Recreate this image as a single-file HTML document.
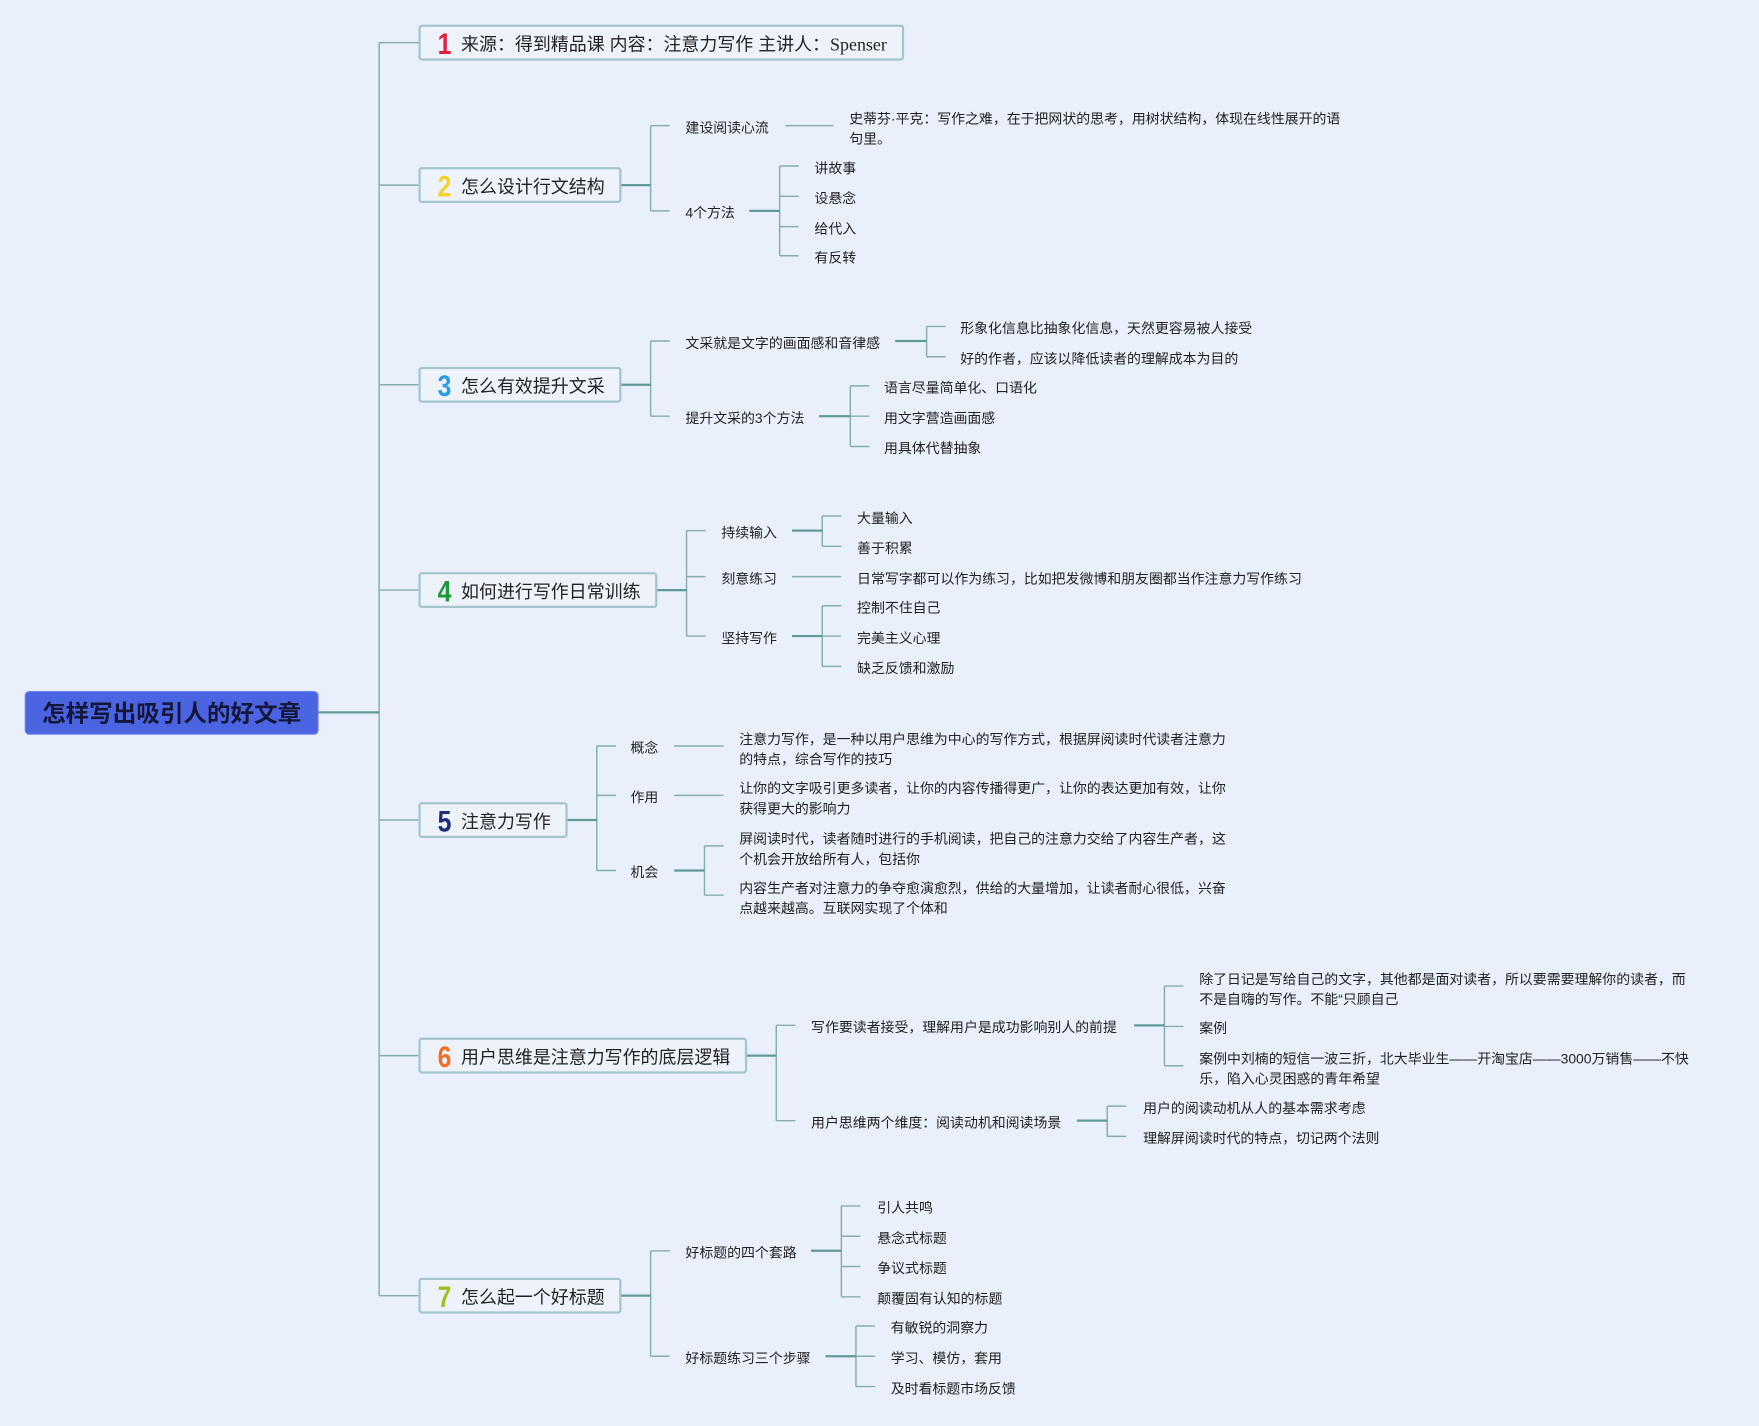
<!DOCTYPE html>
<html><head><meta charset="utf-8"><style>
html,body{margin:0;padding:0;background:#e9f0fb;}
#wrap{position:relative;width:1759px;height:1426px;overflow:hidden;background:#e9f0fb;}
#s{position:absolute;left:0;top:0;width:1568px;height:1271px;transform:scale(1.1218);transform-origin:0 0;font-family:"Liberation Sans","Noto Sans CJK SC",sans-serif;color:#222;}
.t{position:absolute;font-size:12.4px;line-height:18px;white-space:nowrap;margin-top:2px;}
.w{white-space:normal;}
.b{position:absolute;left:373px;height:28px;border:2px solid #a6c4cc;border-radius:3px;background:#eef3fb;font-size:16px;line-height:33px;padding-left:36px;box-sizing:content-box;color:#222;white-space:nowrap;}
.n{position:absolute;left:14px;top:0px;font-size:26px;line-height:30px;font-weight:bold;font-family:"Liberation Sans",sans-serif;transform:scaleX(0.85);}
svg{position:absolute;left:0;top:0;}
</style></head><body><div id="wrap"><div id="s">
<svg width="1568" height="1271" fill="none">
<g stroke="#86adae" stroke-width="1.3">
<path d="M338 38V1155M338 38H373M338 165H373M338 343H373M338 526H373M338 731H373M338 941H373M338 1155H373"/>
<path d="M580 112V188M580 112H597M580 188H597M700 112H743M695 148V228M695 148H712M695 175H712M695 202H712M695 228H712"/>
<path d="M580 304V371M580 304H597M580 371H597M826 291V318M826 291H843M826 318H843M758 344V398M758 344H775M758 371H775M758 398H775"/>
<path d="M612 473V567M612 473H629M612 514H629M612 567H629M733 460V487M733 460H750M733 487H750M706 514H750M733 540V594M733 540H750M733 567H750M733 594H750"/>
<path d="M532 665V776M532 665H549M532 709H549M532 776H549M601 665H645M601 709H645M628 754V798M628 754H645M628 798H645"/>
<path d="M692 914V999M692 914H709M692 999H709M1038 879V950M1038 879H1055M1038 915H1055M1038 950H1055M987 986V1013M987 986H1004M987 1013H1004"/>
<path d="M580 1115V1209M580 1115H597M580 1209H597M750 1075V1156M750 1075H767M750 1102H767M750 1129H767M750 1156H767M763 1182V1236M763 1182H780M763 1209H780M763 1236H780"/>
</g>
<g stroke="#5f9a98" stroke-width="2">
<path d="M284 635H338M552 165H580M552 343H580M584 526H612M504 731H532M664 941H692M552 1155H580"/>
<path d="M668 188H695M798 304H826M730 371H758M706 473H733M706 567H733M601 776H628M1011 914H1038M960 999H987M723 1115H750M736 1209H763"/>
</g>
</svg>
<div style="position:absolute;left:22px;top:616px;width:262px;height:39px;background:#4a64e2;border-radius:4px;border:1px solid #6a80ee;box-sizing:border-box;text-align:center;line-height:40px;font-size:21px;font-weight:bold;color:#14163a;">怎样写出吸引人的好文章</div>

<div class="b" style="top:22px;width:393px;"><span class="n" style="color:#e0203a">1</span>来源：得到精品课 内容：注意力写作 主讲人：<span style="font-family:'Liberation Serif',serif">Spenser</span></div>
<div class="b" style="top:149px;width:141px;"><span class="n" style="color:#f5d328">2</span>怎么设计行文结构</div>
<div class="b" style="top:327px;width:141px;"><span class="n" style="color:#2a9de0">3</span>怎么有效提升文采</div>
<div class="b" style="top:510px;width:173px;"><span class="n" style="color:#1f9a3a">4</span>如何进行写作日常训练</div>
<div class="b" style="top:715px;width:93px;"><span class="n" style="color:#1e2d7a">5</span>注意力写作</div>
<div class="b" style="top:925px;width:253px;"><span class="n" style="color:#f07020">6</span>用户思维是注意力写作的底层逻辑</div>
<div class="b" style="top:1139px;width:141px;"><span class="n" style="color:#a0c020">7</span>怎么起一个好标题</div>

<div class="t" style="left:611px;top:103px">建设阅读心流</div>
<div class="t w" style="left:757px;top:95px;width:450px">史蒂芬·平克：写作之难，在于把网状的思考，用树状结构，体现在线性展开的语句里。</div>
<div class="t" style="left:611px;top:179px">4个方法</div>
<div class="t" style="left:726px;top:139px">讲故事</div>
<div class="t" style="left:726px;top:166px">设悬念</div>
<div class="t" style="left:726px;top:193px">给代入</div>
<div class="t" style="left:726px;top:219px">有反转</div>

<div class="t" style="left:611px;top:295px">文采就是文字的画面感和音律感</div>
<div class="t" style="left:856px;top:282px">形象化信息比抽象化信息，天然更容易被人接受</div>
<div class="t" style="left:856px;top:309px">好的作者，应该以降低读者的理解成本为目的</div>
<div class="t" style="left:611px;top:362px">提升文采的3个方法</div>
<div class="t" style="left:788px;top:335px">语言尽量简单化、口语化</div>
<div class="t" style="left:788px;top:362px">用文字营造画面感</div>
<div class="t" style="left:788px;top:389px">用具体代替抽象</div>

<div class="t" style="left:643px;top:464px">持续输入</div>
<div class="t" style="left:764px;top:451px">大量输入</div>
<div class="t" style="left:764px;top:478px">善于积累</div>
<div class="t" style="left:643px;top:505px">刻意练习</div>
<div class="t" style="left:764px;top:505px">日常写字都可以作为练习，比如把发微博和朋友圈都当作注意力写作练习</div>
<div class="t" style="left:643px;top:558px">坚持写作</div>
<div class="t" style="left:764px;top:531px">控制不住自己</div>
<div class="t" style="left:764px;top:558px">完美主义心理</div>
<div class="t" style="left:764px;top:585px">缺乏反馈和激励</div>

<div class="t" style="left:562px;top:656px">概念</div>
<div class="t w" style="left:659px;top:648px;width:445px">注意力写作，是一种以用户思维为中心的写作方式，根据屏阅读时代读者注意力的特点，综合写作的技巧</div>
<div class="t" style="left:562px;top:700px">作用</div>
<div class="t w" style="left:659px;top:692px;width:445px">让你的文字吸引更多读者，让你的内容传播得更广，让你的表达更加有效，让你获得更大的影响力</div>
<div class="t" style="left:562px;top:767px">机会</div>
<div class="t w" style="left:659px;top:737px;width:445px">屏阅读时代，读者随时进行的手机阅读，把自己的注意力交给了内容生产者，这个机会开放给所有人，包括你</div>
<div class="t w" style="left:659px;top:781px;width:445px">内容生产者对注意力的争夺愈演愈烈，供给的大量增加，让读者耐心很低，兴奋点越来越高。互联网实现了个体和</div>

<div class="t" style="left:723px;top:905px">写作要读者接受，理解用户是成功影响别人的前提</div>
<div class="t w" style="left:1069px;top:862px;width:445px">除了日记是写给自己的文字，其他都是面对读者，所以要需要理解你的读者，而不是自嗨的写作。不能“只顾自己</div>
<div class="t" style="left:1069px;top:906px">案例</div>
<div class="t w" style="left:1069px;top:933px;width:445px">案例中刘楠的短信一波三折，北大毕业生——开淘宝店——3000万销售——不快乐，陷入心灵困惑的青年希望</div>
<div class="t" style="left:723px;top:990px">用户思维两个维度：阅读动机和阅读场景</div>
<div class="t" style="left:1019px;top:977px">用户的阅读动机从人的基本需求考虑</div>
<div class="t" style="left:1019px;top:1004px">理解屏阅读时代的特点，切记两个法则</div>

<div class="t" style="left:611px;top:1106px">好标题的四个套路</div>
<div class="t" style="left:782px;top:1066px">引人共鸣</div>
<div class="t" style="left:782px;top:1093px">悬念式标题</div>
<div class="t" style="left:782px;top:1120px">争议式标题</div>
<div class="t" style="left:782px;top:1147px">颠覆固有认知的标题</div>
<div class="t" style="left:611px;top:1200px">好标题练习三个步骤</div>
<div class="t" style="left:794px;top:1173px">有敏锐的洞察力</div>
<div class="t" style="left:794px;top:1200px">学习、模仿，套用</div>
<div class="t" style="left:794px;top:1227px">及时看标题市场反馈</div>
</div></div></body></html>
